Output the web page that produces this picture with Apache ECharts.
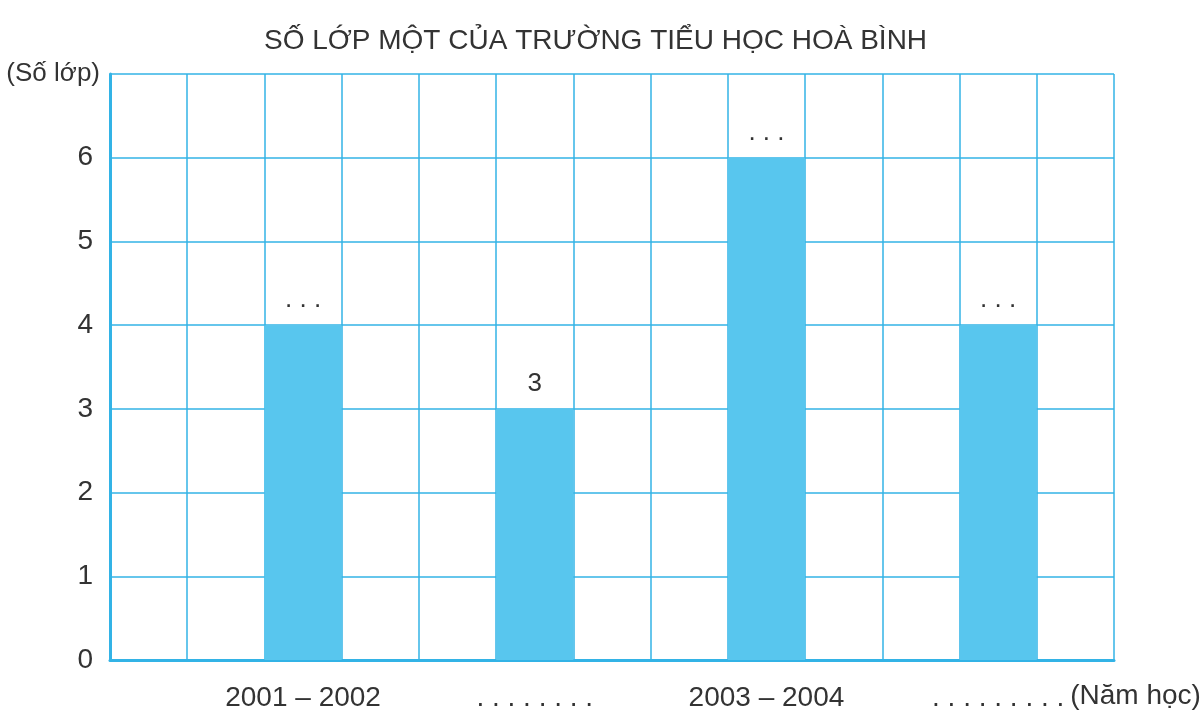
<!DOCTYPE html>
<html>
<head>
<meta charset="utf-8">
<script src="https://cdn.jsdelivr.net/npm/echarts@6/dist/echarts.min.js"></script>
<style>
html,body{margin:0;padding:0;background:#fff;}
#chart{width:1202px;height:715px;}
</style>
</head>
<body>
<div id="chart"></div>
<script>
// 13 grid columns; only some carry a bar and a label
const categories = ['', '', '2001 – 2002', '', '', '. . . . . . . .', '', '', '2003 – 2004', '', '', '. . . . . . . . .', ''];
const values = [null, null, 4, null, null, 3, null, null, 6, null, null, 4, null];
const barLabels = [null, null, '. . .', null, null, '3', null, null, '. . .', null, null, '. . .', null];
const yTicks = [0, 1, 2, 3, 4, 5, 6, 7];
const titleText = 'SỐ LỚP MỘT CỦA TRƯỜNG TIỂU HỌC HOÀ BÌNH';
const yName = '(Số lớp)';
const xName = '(Năm học)';

const blue = '#33b3e6';
const textColor = '#333333';
const font = "'Liberation Sans', Arial, sans-serif";

const chart = echarts.init(document.getElementById('chart'), null, {renderer: 'canvas'});
chart.setOption({
  animation: false,
  backgroundColor: '#ffffff',
  title: {
    text: titleText,
    left: 259,
    top: 22,
    textStyle: {fontFamily: font, fontSize: 28, fontWeight: 'normal', color: textColor}
  },
  grid: {left: 110, right: 88, top: 74, bottom: 55, containLabel: false, outerBoundsMode: 'none'},
  xAxis: {
    type: 'category',
    data: categories,
    boundaryGap: true,
    name: xName,
    nameLocation: 'end',
    nameGap: -46,
    nameTextStyle: {fontFamily: font, fontSize: 28, color: textColor, verticalAlign: 'top', align: 'left', padding: [22, 0, 0, 0]},
    axisLine: {show: true, lineStyle: {color: blue, width: 3}},
    axisTick: {show: false},
    axisLabel: {interval: 0, fontFamily: font, fontSize: 28, color: textColor, margin: 24},
    splitLine: {show: true, interval: 0, lineStyle: {color: blue, width: 1.5}}
  },
  yAxis: {
    type: 'value',
    min: yTicks[0],
    max: yTicks[yTicks.length - 1],
    interval: 1,
    name: yName,
    nameLocation: 'end',
    nameGap: 0,
    nameTextStyle: {fontFamily: font, fontSize: 26, color: textColor, align: 'right', verticalAlign: 'middle', padding: [0, 10, 0, 0]},
    axisLine: {show: true, lineStyle: {color: blue, width: 3}},
    axisTick: {show: false},
    axisLabel: {fontFamily: font, fontSize: 28, color: textColor, margin: 17, showMaxLabel: false,
      padding: [6, 0, 0, 0],
      formatter: v => (v === yTicks[yTicks.length - 1] ? '' : String(v))},
    splitLine: {show: true, lineStyle: {color: blue, width: 1.5}}
  },
  series: [{
    type: 'bar',
    data: values.map((v, i) => v === null ? null : {
      value: v,
      label: {show: true, formatter: barLabels[i]}
    }),
    barWidth: '100%',
    itemStyle: {color: '#58c6ee'},
    label: {
      show: true,
      position: 'top',
      distance: 12,
      fontFamily: font,
      fontSize: 26,
      color: textColor
    }
  }]
});
</script>
</body>
</html>
